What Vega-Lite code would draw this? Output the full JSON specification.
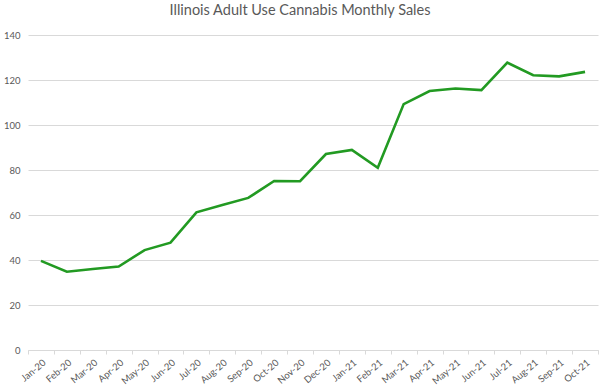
{
  "$schema": "https://vega.github.io/schema/vega-lite/v6.json",
  "autosize": {"type": "none"},
  "width": 570,
  "height": 315,
  "padding": {"left": 28, "top": 35, "right": 2, "bottom": 39},
  "background": "white",
  "title": {
    "text": "Illinois Adult Use Cannabis Monthly Sales",
    "font": "Lato",
    "fontSize": 14.5,
    "fontWeight": "normal",
    "color": "#595959",
    "anchor": "middle",
    "dx": -13,
    "offset": 12
  },
  "config": {
    "view": {"stroke": null},
    "axis": {
      "labelFont": "Lato",
      "labelColor": "#595959",
      "labelFontSize": 9.5,
      "domainColor": "#d9d9d9",
      "tickColor": "#d9d9d9",
      "gridColor": "#d9d9d9",
      "title": null
    }
  },
  "data": {
    "values": [
      {"month": "Jan-20", "sales": 39.6},
      {"month": "Feb-20", "sales": 34.8},
      {"month": "Mar-20", "sales": 36.0},
      {"month": "Apr-20", "sales": 37.1},
      {"month": "May-20", "sales": 44.4},
      {"month": "Jun-20", "sales": 47.7},
      {"month": "Jul-20", "sales": 61.2},
      {"month": "Aug-20", "sales": 64.4},
      {"month": "Sep-20", "sales": 67.6},
      {"month": "Oct-20", "sales": 75.1},
      {"month": "Nov-20", "sales": 75.0},
      {"month": "Dec-20", "sales": 87.1},
      {"month": "Jan-21", "sales": 88.9},
      {"month": "Feb-21", "sales": 81.0},
      {"month": "Mar-21", "sales": 109.3},
      {"month": "Apr-21", "sales": 115.1},
      {"month": "May-21", "sales": 116.2},
      {"month": "Jun-21", "sales": 115.5},
      {"month": "Jul-21", "sales": 127.7},
      {"month": "Aug-21", "sales": 122.1},
      {"month": "Sep-21", "sales": 121.6},
      {"month": "Oct-21", "sales": 123.6}
    ]
  },
  "mark": {"type": "line", "color": "#229a22", "strokeWidth": 2.6},
  "encoding": {
    "x": {
      "field": "month",
      "type": "ordinal",
      "sort": null,
      "bandPosition": 0.5,
      "scale": {"type": "band", "paddingInner": 0, "paddingOuter": 0},
      "axis": {
        "labelAngle": -40,
        "labelAlign": "right",
        "labelBaseline": "middle",
        "labelPadding": 7,
        "labelOffset": 3,
        "tickBand": "extent",
        "tickSize": 4,
        "grid": false
      }
    },
    "y": {
      "field": "sales",
      "type": "quantitative",
      "scale": {"domain": [0, 140]},
      "axis": {
        "values": [0, 20, 40, 60, 80, 100, 120, 140],
        "domain": false,
        "ticks": false,
        "labelPadding": 8,
        "grid": true
      }
    }
  }
}
